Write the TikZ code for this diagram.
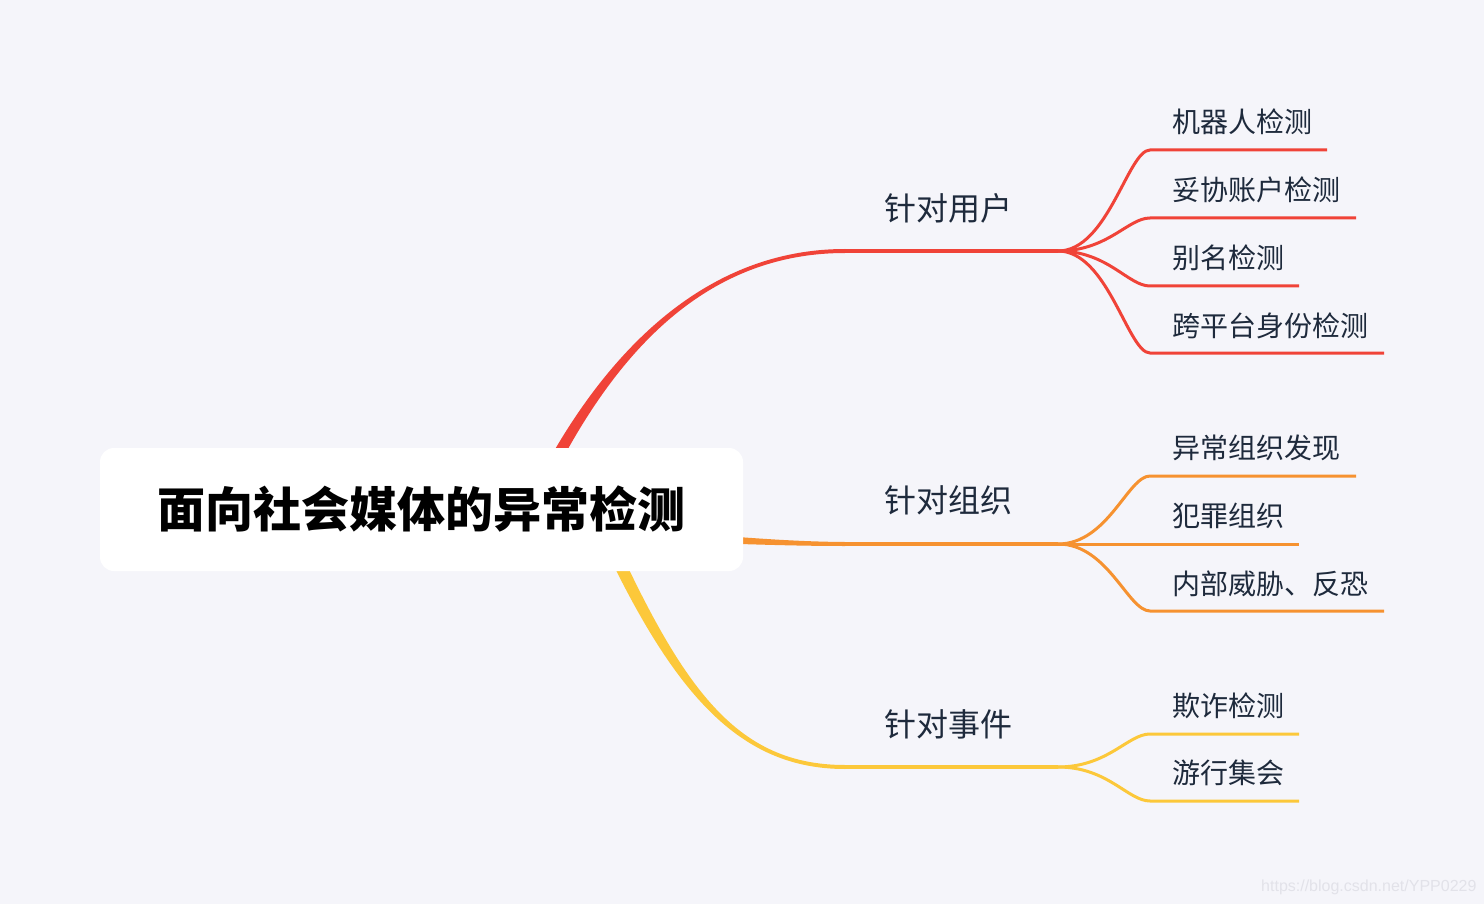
\documentclass[tikz,border=0pt]{standalone}
\usepackage{fontspec}
\setmainfont{Liberation Sans}
\newfontfamily\cjk{Noto Sans CJK SC}
\usetikzlibrary{calc}
\definecolor{bg}{HTML}{F5F5FA}
\definecolor{cred}{HTML}{F04338}
\definecolor{corange}{HTML}{F69230}
\definecolor{cyellow}{HTML}{FCC83A}
\definecolor{txt}{HTML}{1E2A3C}
\definecolor{wm}{HTML}{E2E2E9}
\begin{document}
\begin{tikzpicture}[x=1pt,y=-1pt,
  lvlone/.style={anchor=base west, inner sep=0pt, font=\cjk\fontsize{32}{32}\selectfont, text=txt},
  lvltwo/.style={anchor=base west, inner sep=0pt, font=\cjk\fontsize{28}{28}\selectfont, text=txt},
  trunk/.style={line width=3.5pt},
  twig/.style={line width=3pt},
  rootbox/.style={fill=white, rounded corners=14pt, minimum width=643pt, minimum height=123pt, inner sep=0pt,
    font=\cjk\bfseries\fontsize{48}{48}\selectfont, text=black, text height=42pt, text depth=5.5pt}
]
\fill[bg] (0,0) rectangle (1484,904);
\useasboundingbox (0,0) rectangle (1484,904);

% ---------- coordinates ----------
\coordinate (Mr) at (845,251);
\coordinate (Mo) at (845,544);
\coordinate (My) at (845,767);
\coordinate (Fr) at (1058,251);
\coordinate (Fo) at (1058,544);
\coordinate (Fy) at (1058,767);

% ---------- main tapered curves ----------
\fill[cred] (523,510) .. controls (594,360) and (700,249) .. (845,249)
  -- (845,253) .. controls (700,253) and (606,360) .. (537,510) -- cycle;
\fill[corange] (600,527) .. controls (700,533) and (770,541.5) .. (845,542)
  -- (845,546) .. controls (770,546) and (700,542) .. (600,540) -- cycle;
\fill[cyellow] (583,500) .. controls (663,680) and (730,769) .. (845,769)
  -- (845,765) .. controls (730,765) and (677,680) .. (597,500) -- cycle;

% ---------- root ----------
\node[rootbox] (root) at (421.5,509.5) {面向社会媒体的异常检测};

% ---------- trunks ----------
\draw[trunk,cred] (Mr) -- (Fr);
\draw[trunk,corange] (Mo) -- (Fo);
\draw[trunk,cyellow] (My) -- (Fy);

% ---------- red twigs ----------
\coordinate (r1s) at (1150,150); \coordinate (r1e) at (1327,150);
\coordinate (r2s) at (1150,218); \coordinate (r2e) at (1356,218);
\coordinate (r3s) at (1150,286); \coordinate (r3e) at (1299,286);
\coordinate (r4s) at (1150,353); \coordinate (r4e) at (1384,353);
\draw[twig,cred] (Fr) .. controls +(50,0) and +(-22,0) .. (r1s) -- (r1e);
\draw[twig,cred] (Fr) .. controls +(50,0) and +(-22,0) .. (r2s) -- (r2e);
\draw[twig,cred] (Fr) .. controls +(50,0) and +(-22,0) .. (r3s) -- (r3e);
\draw[twig,cred] (Fr) .. controls +(50,0) and +(-22,0) .. (r4s) -- (r4e);

% ---------- orange twigs ----------
\coordinate (o1s) at (1150,476); \coordinate (o1e) at (1356,476);
\coordinate (o2e) at (1299,544);
\coordinate (o3s) at (1150,611); \coordinate (o3e) at (1384,611);
\draw[twig,corange] (Fo) .. controls +(50,0) and +(-22,0) .. (o1s) -- (o1e);
\draw[twig,corange] (Fo) -- (o2e);
\draw[twig,corange] (Fo) .. controls +(50,0) and +(-22,0) .. (o3s) -- (o3e);

% ---------- yellow twigs ----------
\coordinate (y1s) at (1150,734); \coordinate (y1e) at (1299,734);
\coordinate (y2s) at (1150,801); \coordinate (y2e) at (1299,801);
\draw[twig,cyellow] (Fy) .. controls +(50,0) and +(-22,0) .. (y1s) -- (y1e);
\draw[twig,cyellow] (Fy) .. controls +(50,0) and +(-22,0) .. (y2s) -- (y2e);

% ---------- labels ----------
\node[lvlone] (u) at (884,221) {针对用户};
\node[lvlone] (g) at (884,512) {针对组织};
\node[lvlone] (e) at (884,736) {针对事件};

\node[lvltwo] (u1) at (1172,132.6) {机器人检测};
\node[lvltwo] (u2) at (1172,200.6) {妥协账户检测};
\node[lvltwo] (u3) at (1172,268.6) {别名检测};
\node[lvltwo] (u4) at (1172,336.6) {跨平台身份检测};
\node[lvltwo] (g1) at (1172,458.6) {异常组织发现};
\node[lvltwo] (g2) at (1172,526.6) {犯罪组织};
\node[lvltwo] (g3) at (1172,594.6) {内部威胁、反恐};
\node[lvltwo] (e1) at (1172,716.6) {欺诈检测};
\node[lvltwo] (e2) at (1172,783.6) {游行集会};

% ---------- watermark ----------
\node[anchor=base west, inner sep=0pt, text=wm, font=\fontsize{16}{16}\selectfont] (wmk) at (1261,891) {https://blog.csdn.net/YPP0229};
\end{tikzpicture}
\end{document}
